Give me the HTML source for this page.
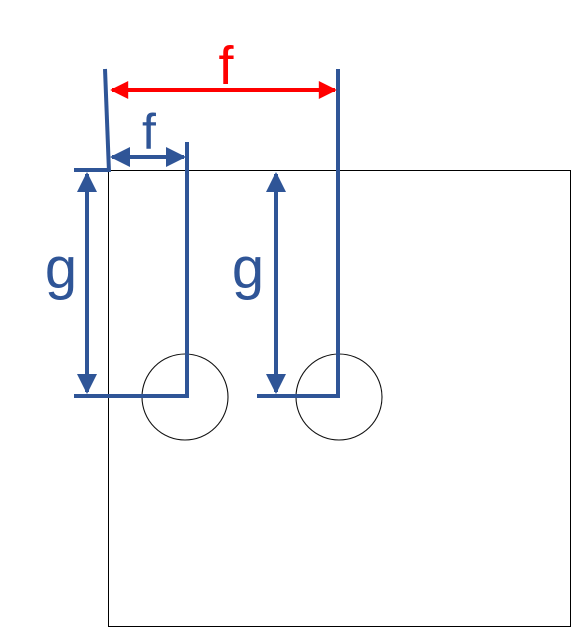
<!DOCTYPE html>
<html><head><meta charset="utf-8"><style>
html,body{margin:0;padding:0;background:#fff;}
svg{display:block;}
text{font-family:"Liberation Sans",sans-serif;}
</style></head><body>
<svg width="573" height="629" viewBox="0 0 573 629">
<defs>
<marker id="ab" viewBox="0 0 10 10" refX="9" refY="5" markerWidth="5" markerHeight="5" orient="auto-start-reverse" markerUnits="strokeWidth"><path d="M0,0L10,5L0,10z" fill="#2f5597"/></marker>
<marker id="ar" viewBox="0 0 10 10" refX="9" refY="5" markerWidth="5" markerHeight="4.5" orient="auto-start-reverse" markerUnits="strokeWidth"><path d="M0,0L10,5L0,10z" fill="#ff0000"/></marker>
</defs>
<rect x="108.5" y="170.5" width="462" height="456" fill="none" stroke="#000" stroke-width="1" shape-rendering="crispEdges"/>
<circle cx="185" cy="397" r="43" fill="none" stroke="#111" stroke-width="1.1"/>
<circle cx="339" cy="397" r="43" fill="none" stroke="#111" stroke-width="1.1"/>
<g stroke="#2f5597" stroke-width="4" fill="none">
<line x1="105" y1="69" x2="109" y2="172"/>
<line x1="74" y1="170" x2="110" y2="170"/>
<polyline points="74,396 187,396 187,142"/>
<polyline points="257,396 338,396 338,69"/>
<line x1="112" y1="157" x2="184" y2="157" marker-start="url(#ab)" marker-end="url(#ab)"/>
<line x1="87" y1="174" x2="87" y2="392" marker-start="url(#ab)" marker-end="url(#ab)"/>
<line x1="276" y1="174" x2="276" y2="392" marker-start="url(#ab)" marker-end="url(#ab)"/>
</g>
<line x1="112" y1="90" x2="335" y2="90" stroke="#ff0000" stroke-width="4" marker-start="url(#ar)" marker-end="url(#ar)"/>
<text x="226" y="84" font-size="54" fill="#ff0000" text-anchor="middle">f</text>
<text x="149" y="149" font-size="50" fill="#2f5597" text-anchor="middle">f</text>
<text x="61" y="288" font-size="58" fill="#2f5597" text-anchor="middle">g</text>
<text x="248" y="288" font-size="58" fill="#2f5597" text-anchor="middle">g</text>
</svg>
</body></html>
